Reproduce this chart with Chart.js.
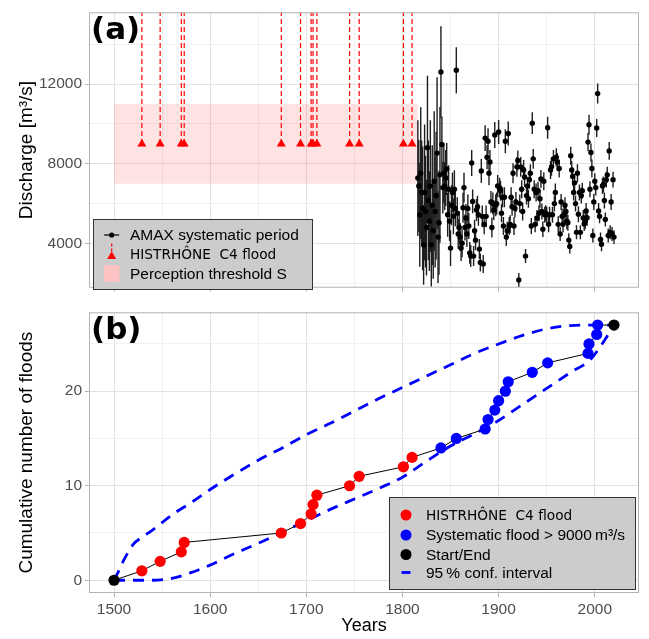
<!DOCTYPE html>
<html>
<head>
<meta charset="utf-8">
<script src="https://cdn.jsdelivr.net/npm/chart.js@4.4.1/dist/chart.umd.min.js"></script>
<style>
  html, body { margin: 0; padding: 0; background: #fff; }
  #wrap { position: relative; width: 649px; height: 639px; overflow: hidden; }
  #wrap canvas { position: absolute; left: 0; }
  #chartA { top: 0; }
  #chartB { top: 300px; }
</style>
</head>
<body>
<div id="wrap">
  <canvas id="chartA" width="649" height="300"></canvas>
  <canvas id="chartB" width="649" height="339"></canvas>
</div>
<script>
// ---- data ----
// historical (HISTRHÔNE C4) floods
const histYears = [1529, 1548, 1570, 1573, 1674, 1694, 1705, 1707, 1711, 1745, 1755, 1801, 1810];
const histCount = [1, 2, 3, 4, 5, 6, 7, 8, 9, 10, 11, 12, 13];
const histLevel = 9000;

// systematic floods above 9000 m3/s
const sysYears = [1840, 1856, 1886, 1889, 1896, 1900, 1907, 1910, 1935, 1951, 1993, 1994, 2002, 2003];
const sysCount = [14, 15, 16, 17, 18, 19, 20, 21, 22, 23, 24, 25, 26, 27];

const startEndYears = [1500, 2020];
const startEndCount = [0, 27];

// perception threshold band
const perceptionYears = [1500, 1816];
const perceptionLow = 7000;
const perceptionHigh = 11000;

// AMAX systematic period, one value per year from 1816
const amaxStart = 1816;
const amaxValues = [
  7290, 6890, 5450, 7530,
  6570, 5770, 3940, 6570, 5610, 4810, 8810, 6170, 5130, 6890,
  3950, 5930, 4650, 7130, 5610, 6410, 8540, 4330, 5050, 7450,
  12600, 8970, 6810, 7530, 6890, 7290, 7740, 5450, 6730, 5130,
  3780, 5930, 6570, 5370, 6730, 5770, 12690, 5530, 4490, 4810,
  4340, 3780, 4020, 5800, 6810, 4810, 5290, 4490, 5770, 4890,
  3540, 3380, 8040, 6120, 3380, 4650, 4170, 5690, 5850, 5450,
  3730, 3060, 7640, 5370, 2980, 4970, 9290, 5370, 8330, 9130,
  7530, 8090, 6090, 4810, 6010, 5690, 9450, 5930, 6010, 6890,
  9600, 6810, 6650, 5530, 6330, 4890, 6330, 9130, 4330, 4650,
  9520, 4890, 4970, 6330, 5850, 7530, 4890, 5770, 6090, 7850,
  8170, 2180, 6010, 7850, 6730, 5610, 7690, 7340, 3380, 6410,
  6890, 6250, 7210, 7530, 4890, 10040, 8250, 6730, 4970, 6570,
  5290, 6650, 5530, 6250, 7240, 5610, 4730, 7130, 5450, 5530,
  5450, 9810, 4970, 5450, 7690, 7850, 5450, 8250, 6010, 6570,
  8330, 8090, 4970, 7770, 4490, 6090, 5370, 4970, 5450, 5930,
  5610, 5130, 5050, 4180, 3860, 8410, 7690, 7370, 6570, 7050,
  6010, 4570, 7530, 5480, 6570, 4570, 6410, 6650, 5290, 4990,
  5130, 5640, 5300, 9090, 9960, 6730, 8570, 7770, 4410, 6090,
  7130, 6810, 9800, 11520, 5640, 5370, 4210, 3970, 6890, 6970,
  6170, 5210, 7210, 7450, 4410, 8650, 4570, 6090, 4490, 7210, 4330
];
// half width of the uncertainty bars
const amaxErrors = [
  2900, 2300, 2600, 3300,
  2600, 3100, 2000, 3400, 2800, 2400, 3600, 3000, 2500, 3300,
  2100, 3000, 2400, 3500, 2800, 3200, 3800, 2300, 2600, 3400,
  2300, 1400, 1300, 1500, 1200, 1400, 1300, 1100, 1200, 1000,
  900, 1000, 1000, 900, 950, 900, 1150, 800, 750, 800,
  700, 650, 700, 750, 750, 650, 700, 650, 700, 650,
  550, 550, 650, 600, 500, 550, 500, 550, 550, 550,
  500, 450, 600, 550, 450, 500, 650, 550, 600, 650,
  600, 600, 550, 500, 550, 500, 650, 550, 550, 550,
  600, 500, 500, 450, 500, 450, 500, 600, 450, 450,
  600, 450, 450, 500, 450, 500, 450, 450, 500, 500,
  500, 350, 450, 500, 450, 450, 500, 500, 350, 450,
  450, 450, 450, 450, 400, 550, 500, 450, 400, 450,
  400, 450, 400, 450, 450, 400, 400, 450, 400, 400,
  400, 550, 400, 400, 450, 450, 400, 450, 400, 450,
  450, 450, 400, 450, 350, 400, 400, 400, 400, 400,
  400, 400, 400, 350, 350, 450, 450, 450, 400, 450,
  400, 350, 450, 400, 400, 350, 400, 400, 400, 350,
  400, 400, 400, 450, 500, 400, 450, 450, 350, 400,
  400, 400, 450, 500, 400, 350, 350, 350, 400, 400,
  400, 350, 400, 400, 350, 450, 350, 400, 350, 400, 350
];

// 95% confidence envelope of the cumulative count
const ciUpperYears = [1500, 1505, 1510, 1515, 1520, 1530, 1540, 1560, 1580, 1600, 1625, 1650, 1675, 1700, 1725, 1750, 1775, 1800, 1825, 1850, 1875, 1900, 1925, 1950, 1975, 2000, 2020];
const ciUpper = [0, 1.0, 2.1, 3.0, 3.8, 4.6, 5.3, 6.9, 8.2, 9.6, 11.2, 12.7, 14.0, 15.4, 16.6, 17.9, 19.2, 20.4, 21.6, 22.8, 24.0, 25.0, 25.9, 26.6, 26.95, 27, 27];
const ciLowerYears = [1500, 1520, 1540, 1560, 1580, 1600, 1625, 1650, 1675, 1700, 1725, 1750, 1775, 1800, 1825, 1850, 1875, 1900, 1925, 1950, 1975, 1995, 2005, 2020];
const ciLower = [0, 0, 0, 0.2, 0.8, 1.6, 2.8, 3.9, 5.1, 6.3, 7.5, 8.6, 9.7, 10.9, 12.6, 14.2, 15.5, 16.9, 18.6, 20.3, 22.0, 23.3, 24.6, 27];

// axes
const yearBreaks = [1500, 1600, 1700, 1800, 1900, 2000];
const yearMinor = [1550, 1650, 1750, 1850, 1950];
const dischargeBreaks = [4000, 8000, 12000];
const dischargeMinor = [2000, 6000, 10000, 14000];
const countBreaks = [0, 10, 20];
const countMinor = [5, 15, 25];

// ---- helpers ----
const SANS = '"Liberation Sans", Arial, sans-serif';
const DEJAVU = '"DejaVu Sans", sans-serif';
Chart.defaults.font.family = SANS;

const X_RANGE = [1474, 2046];
const A_RANGE = [1796, 15593];
const B_RANGE = [-1.35, 28.35];

function pts(xs, ys) {
  return xs.map((x, i) => ({ x: x, y: ys[i] }));
}

function gridScale(range, breaks, minor, labels) {
  const all = breaks.concat(minor).sort((a, b) => a - b);
  return {
    type: 'linear',
    min: range[0],
    max: range[1],
    afterBuildTicks: s => { s.ticks = all.map(v => ({ value: v })); },
    ticks: {
      display: labels,
      autoSkip: false,
      maxRotation: 0,
      color: '#4d4d4d',
      font: { size: 15.5 },
      padding: 3,
      callback: v => (breaks.includes(v) ? String(v) : '')
    },
    grid: {
      color: c => (breaks.includes(c.tick.value) ? '#e2e2e2' : '#f1f1f1'),
      lineWidth: 1,
      tickLength: 4,
      tickColor: c => (breaks.includes(c.tick.value) ? '#b3b3b3' : 'rgba(0,0,0,0)')
    },
    border: { display: false }
  };
}

const framePlugin = {
  id: 'frame',
  beforeDatasetDraw(chart, args) {
    // uncertainty bars under AMAX points
    const ds = chart.data.datasets[args.index];
    if (!ds.errors) return;
    const { ctx, chartArea: a } = chart;
    const x = chart.scales.x, y = chart.scales.y;
    ctx.save();
    ctx.beginPath();
    ctx.rect(a.left, a.top, a.right - a.left, a.bottom - a.top);
    ctx.clip();
    ctx.strokeStyle = '#1e1e1e';
    ctx.lineWidth = 1.4;
    ds.data.forEach((p, i) => {
      const px = x.getPixelForValue(p.x);
      ctx.beginPath();
      ctx.moveTo(px, y.getPixelForValue(p.y - ds.errors[i]));
      ctx.lineTo(px, y.getPixelForValue(p.y + ds.errors[i]));
      ctx.stroke();
    });
    ctx.restore();
  },
  afterDatasetsDraw(chart, args, opts) {
    const { ctx, chartArea: a } = chart;
    ctx.save();
    ctx.strokeStyle = '#b3b3b3';
    ctx.lineWidth = 1;
    ctx.strokeRect(a.left + 0.5, a.top + 0.5, a.right - a.left - 1, a.bottom - a.top - 1);
    // panel tag
    ctx.fillStyle = '#000';
    ctx.font = 'bold 31px ' + DEJAVU;
    ctx.textBaseline = 'alphabetic';
    ctx.textAlign = 'left';
    ctx.fillText(opts.tag, 91, a.top + opts.tagDy);
    // legend
    const L = opts.legend;
    ctx.fillStyle = '#cccccc';
    ctx.fillRect(L.x, L.y, L.w, L.h);
    ctx.strokeStyle = '#333333';
    ctx.strokeRect(L.x + 0.5, L.y + 0.5, L.w - 1, L.h - 1);
    L.rows.forEach(r => {
      r.key(ctx, L.keyX, r.y);
      ctx.fillStyle = '#000';
      ctx.font = r.font;
      ctx.textBaseline = 'middle';
      ctx.fillText(r.text, L.textX, r.y + 1);
    });
    ctx.restore();
  }
};

function triangle(ctx, cx, cy, r) {
  ctx.beginPath();
  ctx.moveTo(cx, cy - r);
  ctx.lineTo(cx + r * 0.866, cy + r * 0.5);
  ctx.lineTo(cx - r * 0.866, cy + r * 0.5);
  ctx.closePath();
  ctx.fill();
}
function dot(color) {
  return (ctx, x, y) => {
    ctx.fillStyle = color;
    ctx.beginPath();
    ctx.arc(x, y, 5.5, 0, Math.PI * 2);
    ctx.fill();
  };
}

// ---- panel (a) ----
const amaxPoints = amaxValues.map((v, i) => ({ x: amaxStart + i, y: v }));
const histMarks = histYears.map(y => ({ x: y, y: histLevel }));
const histLines = [];
histYears.forEach(y => {
  histLines.push({ x: y, y: histLevel }, { x: y, y: A_RANGE[1] }, { x: y, y: null });
});

new Chart(document.getElementById('chartA'), {
  type: 'line',
  data: {
    datasets: [
      { data: histMarks, showLine: false, pointStyle: 'triangle', pointRadius: 5.2,
        pointBackgroundColor: '#ff0000', pointBorderWidth: 0 },
      { data: histLines, borderColor: '#ff0000', borderWidth: 1.2, borderDash: [5, 3],
        pointRadius: 0, spanGaps: false },
      { data: amaxPoints, errors: amaxErrors, showLine: false, pointRadius: 2.7,
        pointBackgroundColor: '#000', pointBorderWidth: 0 },
      { data: pts(perceptionYears, [perceptionHigh, perceptionHigh]), fill: { value: perceptionLow },
        backgroundColor: 'rgba(255,0,0,0.115)', borderWidth: 0, pointRadius: 0 }
    ]
  },
  options: {
    responsive: false,
    animation: false,
    events: [],
    layout: { padding: { left: 0, right: 10, top: 5, bottom: 0 } },
    plugins: {
      legend: { display: false },
      tooltip: { enabled: false },
      frame: {
        tag: '(a)', tagDy: 27,
        legend: {
          x: 93, y: 219, w: 220, h: 71, keyX: 111.7, textX: 130,
          rows: [
            { y: 235, text: 'AMAX systematic period', font: '15.5px ' + SANS,
              key: (ctx, x, y) => {
                ctx.strokeStyle = '#000'; ctx.lineWidth = 1.2;
                ctx.beginPath(); ctx.moveTo(x - 7.5, y); ctx.lineTo(x + 7.5, y); ctx.stroke();
                ctx.fillStyle = '#000'; ctx.beginPath(); ctx.arc(x, y, 2.6, 0, Math.PI * 2); ctx.fill();
              } },
            { y: 254.5, text: 'HISTRHÔNE  C4 flood', font: '13.7px ' + DEJAVU,
              key: (ctx, x, y) => {
                ctx.strokeStyle = '#ff0000'; ctx.lineWidth = 1.2; ctx.setLineDash([3, 2]);
                ctx.beginPath(); ctx.moveTo(x, y - 11); ctx.lineTo(x, y - 2); ctx.stroke();
                ctx.setLineDash([]);
                ctx.fillStyle = '#ff0000'; triangle(ctx, x, y + 2, 5.2);
              } },
            { y: 273.5, text: 'Perception threshold S', font: '15.5px ' + SANS,
              key: (ctx, x, y) => { ctx.fillStyle = '#ffc2c2'; ctx.fillRect(x - 7.7, y - 8.5, 15.4, 17); } }
          ]
        }
      }
    },
    scales: {
      x: Object.assign(gridScale(X_RANGE, yearBreaks, yearMinor, false), {
        afterFit: s => { s.height = 7; }
      }),
      y: Object.assign(gridScale(A_RANGE, dischargeBreaks, dischargeMinor, true), {
        afterFit: s => { s.width = 89; },
        title: { display: true, text: 'Discharge [m³/s]', color: '#000',
          font: { size: 19 }, padding: { top: 15, bottom: 0 } }
      })
    }
  },
  plugins: [framePlugin]
});

// ---- panel (b) ----
const cumYears = startEndYears.slice(0, 1).concat(histYears, sysYears, startEndYears.slice(1));
const cumCount = startEndCount.slice(0, 1).concat(histCount, sysCount, startEndCount.slice(1));

new Chart(document.getElementById('chartB'), {
  type: 'line',
  data: {
    datasets: [
      { data: pts(startEndYears, startEndCount), showLine: false, pointRadius: 5.6,
        pointBackgroundColor: '#000', pointBorderWidth: 0 },
      { data: pts(sysYears, sysCount), showLine: false, pointRadius: 5.6,
        pointBackgroundColor: '#0000ff', pointBorderWidth: 0 },
      { data: pts(histYears, histCount), showLine: false, pointRadius: 5.6,
        pointBackgroundColor: '#ff0000', pointBorderWidth: 0 },
      { data: pts(cumYears, cumCount), borderColor: '#000', borderWidth: 1, pointRadius: 0 },
      { data: pts(ciUpperYears, ciUpper), borderColor: '#0000ff', borderWidth: 2.8,
        borderDash: [11, 8], cubicInterpolationMode: 'monotone', pointRadius: 0 },
      { data: pts(ciLowerYears, ciLower), borderColor: '#0000ff', borderWidth: 2.8,
        borderDash: [11, 8], cubicInterpolationMode: 'monotone', pointRadius: 0 }
    ]
  },
  options: {
    responsive: false,
    animation: false,
    events: [],
    layout: { padding: { left: 0, right: 10, top: 6, bottom: 0 } },
    plugins: {
      legend: { display: false },
      tooltip: { enabled: false },
      frame: {
        tag: '(b)', tagDy: 27,
        // positions below are local to the lower canvas (page y - 300)
        legend: {
          x: 389, y: 197, w: 247, h: 93, keyX: 406, textX: 426,
          rows: [
            { y: 215, text: 'HISTRHÔNE  C4 flood', font: '13.7px ' + DEJAVU, key: dot('#ff0000') },
            { y: 235, text: 'Systematic flood > 9000\u2009m³/s', font: '15.5px ' + SANS, key: dot('#0000ff') },
            { y: 254.5, text: 'Start/End', font: '15.5px ' + SANS, key: dot('#000') },
            { y: 272.5, text: '95\u2009% conf. interval', font: '15.5px ' + SANS,
              key: (ctx, x, y) => {
                ctx.strokeStyle = '#0000ff'; ctx.lineWidth = 2.8;
                ctx.beginPath(); ctx.moveTo(x - 4.5, y); ctx.lineTo(x + 4.5, y); ctx.stroke();
              } }
          ]
        }
      }
    },
    scales: {
      x: Object.assign(gridScale(X_RANGE, yearBreaks, yearMinor, true), {
        afterFit: s => { s.height = 46; },
        title: { display: true, text: 'Years', color: '#000',
          font: { size: 18 }, padding: { top: 0, bottom: 2 } }
      }),
      y: Object.assign(gridScale(B_RANGE, countBreaks, countMinor, true), {
        afterFit: s => { s.width = 89; },
        title: { display: true, text: 'Cumulative number of floods', color: '#000',
          font: { size: 19 }, padding: { top: 15, bottom: 0 } }
      })
    }
  },
  plugins: [framePlugin]
});
</script>
</body>
</html>
